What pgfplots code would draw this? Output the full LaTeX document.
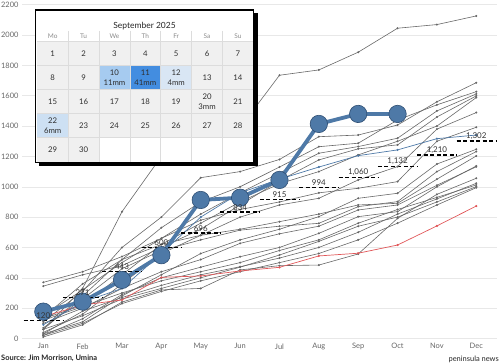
\documentclass[border=0pt]{standalone}
\usepackage{fontspec}
\setmainfont{Lato}
\usepackage{pgfplots}
\pgfplotsset{compat=1.18}
\usepackage{pgfplotstable}

\definecolor{gline}{HTML}{686868}
\definecolor{tblue}{HTML}{4E79A7}
\definecolor{tbluedk}{HTML}{2E4E73}
\definecolor{tred}{HTML}{E15759}
\definecolor{cellgrey}{HTML}{F0F0F0}
\definecolor{gridc}{HTML}{DCDCDC}
\definecolor{bA}{HTML}{A6CBF0}
\definecolor{bB}{HTML}{438DE0}
\definecolor{bC}{HTML}{D9E6F4}
\definecolor{bD}{HTML}{CDE0F3}

\pgfplotstableread{
m g1 g2 g3 g4 g5 g6 g7 g8 g9 g10 g11 g12 g13 g14 g15 g16 g17 g18
0 60 110 60 370 345 130 40 150 30 70 140 20 100 10 30 120 60 20
1 330 310 280 440 420 220 160 320 110 260 360 130 200 90 180 210 150 100
2 836 600 520 540 480 420 360 500 280 460 520 290 330 240 270 300 260 230
3 1200 800 730 660 600 620 560 660 420 580 620 400 440 320 350 380 330 310
4 1300 1060 900 820 720 760 680 780 560 650 680 470 520 330 420 440 400 380
5 1390 1100 1000 960 880 900 800 850 650 714 720 539 627 452 473 500 470 440
6 1735 1180 1130 1090 1040 1020 880 900 720 740 770 600 690 480 530 580 550 500
7 1770 1330 1264 1221 1177 1100 924 960 803 759 820 693 740 484 600 650 640 560
8 1887 1341 1287 1265 1250 1210 1045 990 924 869 880 803 847 557 700 760 740 650
9 2045 1407 1440 1320 1276 1300 1133 1034 957 902 891 836 880 792 820 850 800 760
10 2069 1560 1540 1500 1460 1400 1380 1300 1150 1100 1050 1000 1010 950 920 930 900 880
11 2126 1686 1627 1612 1599 1588 1489 1392 1247 1232 1203 1137 1132 1056 1023 1012 1001 994
}\greydata

\pgfplotstableread{
m red thin
0 144 90
1 221 240
2 254 330
3 403 560
4 412 800
5 445 960
6 469 1050
7 544 1130
8 562 1205
9 616 1243
10 742 1317
11 873 1341
}\otherdata

\pgfplotstableread{
m avg lbl
0 120 120
1 271 271
2 443 443
3 600 600
4 696 696
5 834 834
6 915 915
7 994 994
8 1060 1,060
9 1132 1,132
10 1210 1,210
11 1302 1,302
}\avgdata

\pgfplotstableread{
x y
-0.5 120
0.5 120
0.5 nan
0.5 271
1.5 271
1.5 nan
1.5 443
2.5 443
2.5 nan
2.5 600
3.5 600
3.5 nan
3.5 696
4.5 696
4.5 nan
4.5 834
5.5 834
5.5 nan
5.5 915
6.5 915
6.5 nan
6.5 994
7.5 994
7.5 nan
7.5 1060
8.5 1060
8.5 nan
8.5 1132
9.5 1132
9.5 nan
9.5 1210
10.5 1210
10.5 nan
10.5 1302
11.5 1302
}\dashdata

\newcommand\calcell[4]{%
  \fill[#3] ({37.3+30.86*#1},{41.7+24*#2}) rectangle ++(30.86,24);
  \node[align=center, font=\fontsize{7.8}{9.6}\selectfont, text=black!82, inner sep=0pt]
    at ({37.3+30.86*#1+15.43},{41.7+24*#2+12}) {#4};}

\begin{document}
\begin{tikzpicture}
\useasboundingbox (0,0) rectangle (500bp,364bp);
\begin{axis}[
  at={(22bp,24bp)}, anchor=south west, scale only axis,
  width=475bp, height=340bp,
  xmin=-0.541, xmax=11.526, ymin=-10, ymax=2231,
  xtick={0,...,11},
  xticklabels={Jan,Feb,Mar,Apr,May,Jun,Jul,Aug,Sep,Oct,Nov,Dec},
  ytick={0,200,...,2200},
  ymajorgrids, grid style={draw=black!9, line width=0.5bp},
  axis line style={draw=none}, major tick style={draw=none},
  tick label style={font=\fontsize{7.5}{9}\selectfont, text=black!60},
  /pgf/number format/assume math mode=true,
  /pgf/number format/1000 sep={},
  clip=false,
]
\pgfplotsinvokeforeach{1,...,18}{
  \addplot[gline, line width=0.6bp, mark=*, mark size=0.7bp,
    mark options={fill=gline, draw=gline}] table[x=m, y index=#1]{\greydata};
}
\addplot[tred, line width=0.7bp, mark=*, mark size=0.7bp, mark options={fill=tred}]
  table[x=m, y=red]{\otherdata};
\addplot[tblue, line width=0.7bp, mark=*, mark size=0.7bp, mark options={fill=tblue}]
  table[x=m, y=thin]{\otherdata};
\addplot[tblue, line width=3.8bp, mark=*, mark size=8.7bp,
  mark options={fill=tblue, draw=tbluedk, line width=0.6bp}]
  coordinates {(0,177)(1,243)(2,386)(3,549)(4,913)(5,928)(6,1045)(7,1414)(8,1480)(9,1480)};
\addplot[black, line width=1.3bp, dash pattern=on 4bp off 2.5bp, mark=none,
  unbounded coords=jump] table[x=x, y=y]{\dashdata};
\addplot[draw=none, mark=none, nodes near coords, point meta=explicit symbolic,
  every node near coord/.append style={font=\fontsize{8}{9}\selectfont,
  text=black!80, inner sep=1.5bp, anchor=south}]
  table[x=m, y=avg, meta=lbl]{\avgdata};
\end{axis}

\begin{scope}[x=1bp, y=-1bp, shift={(0bp,364bp)}]
  \fill[black] (39.3,13.5) rectangle (257.5,166);
  \fill[white] (35.7,10) rectangle (253.8,162.3);
  \foreach \d in {1,2,3,4,5,6,7,8,9,13,14,15,16,17,18,19,21,23,24,25,26,27,28,29,30}{
    \pgfmathtruncatemacro{\c}{mod(\d-1,7)}
    \pgfmathtruncatemacro{\r}{div(\d-1,7)}
    \calcell{\c}{\r}{cellgrey}{\d}
  }
  \calcell{2}{1}{bA}{10\\11mm}
  \calcell{3}{1}{bB}{11\\41mm}
  \calcell{4}{1}{bC}{12\\4mm}
  \calcell{5}{2}{cellgrey}{20\\3mm}
  \calcell{0}{3}{bD}{22\\6mm}
  \foreach \i in {1,...,6}
    \draw[gridc, line width=0.6bp] ({37.3+30.86*\i},31) -- ({37.3+30.86*\i},162.3);
  \foreach \j in {0,...,4}
    \draw[gridc, line width=0.6bp] (37.3,{41.7+24*\j}) -- (253.8,{41.7+24*\j});
  \foreach \n [count=\i from 0] in {Mo,Tu,We,Th,Fr,Sa,Su}
    \node[font=\fontsize{6.5}{8}\selectfont, text=black!45] at ({37.3+30.86*\i+15.43},36) {\n};
  \node[font=\fontsize{8.5}{10}\selectfont, text=black!85] at (144.5,26) {September 2025};
  \draw[black, line width=1.2bp] (35.7,10) rectangle (253.8,162.3);
  \node[anchor=west, font=\bfseries\fontsize{7.5}{9}\selectfont, text=black!85, inner sep=0pt] at (1,358) {Source: Jim Morrison, Umina};
  \node[anchor=east, font=\fontsize{7.5}{9}\selectfont, text=black!85, inner sep=0pt] at (499,359) {peninsula news};
\end{scope}
\end{tikzpicture}
\end{document}
